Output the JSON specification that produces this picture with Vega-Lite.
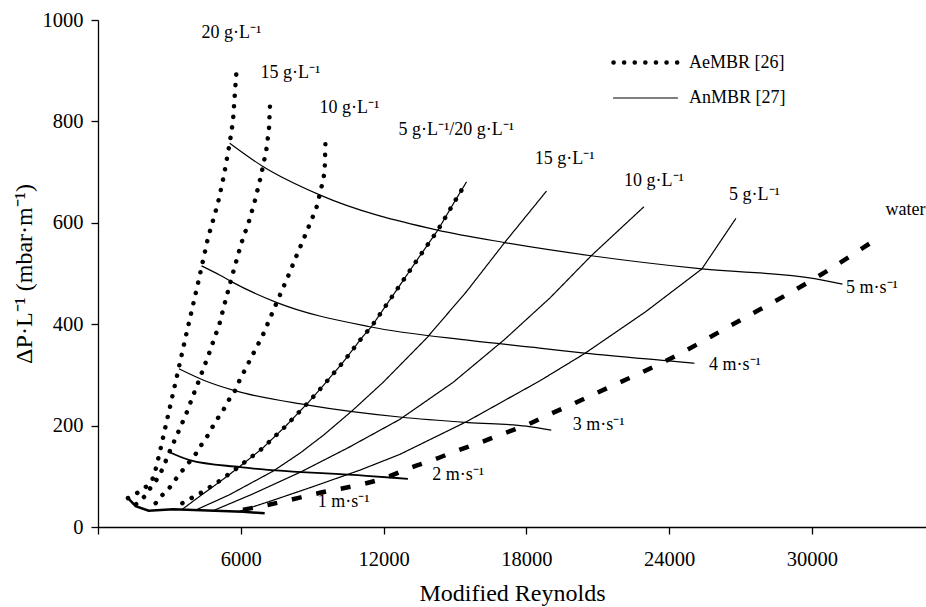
{
  "$schema": "https://vega.github.io/schema/vega-lite/v6.json",
  "width": 828,
  "height": 507,
  "autosize": {"type": "none"},
  "padding": {"left": 98, "top": 20, "right": 0, "bottom": 80},
  "background": "white",
  "config": {
    "font": "'Liberation Serif', 'Times New Roman', serif",
    "view": {"stroke": null},
    "axis": {
      "grid": false,
      "domainColor": "black",
      "tickColor": "black",
      "labelColor": "black",
      "titleColor": "black",
      "domainWidth": 1.3,
      "tickWidth": 1.3,
      "tickSize": 7,
      "labelFont": "'Liberation Serif', 'Times New Roman', serif",
      "titleFont": "'Liberation Serif', 'Times New Roman', serif",
      "labelFontSize": 20.5,
      "titleFontSize": 24,
      "titleFontWeight": "normal"
    },
    "legend": {
      "labelFont": "'Liberation Serif', 'Times New Roman', serif",
      "labelFontSize": 18,
      "labelColor": "black"
    }
  },
  "datasets": {
    "curves": [
      {"c":"Ae20","g":"AeMBR [26]","i":1,"re":1260,"dp":57},
      {"c":"Ae20","g":"AeMBR [26]","i":2,"re":1614,"dp":66},
      {"c":"Ae20","g":"AeMBR [26]","i":3,"re":2034,"dp":80},
      {"c":"Ae20","g":"AeMBR [26]","i":4,"re":2341,"dp":98},
      {"c":"Ae20","g":"AeMBR [26]","i":5,"re":2600,"dp":148},
      {"c":"Ae20","g":"AeMBR [26]","i":6,"re":2732,"dp":176},
      {"c":"Ae20","g":"AeMBR [26]","i":7,"re":3223,"dp":278},
      {"c":"Ae20","g":"AeMBR [26]","i":8,"re":3700,"dp":378},
      {"c":"Ae20","g":"AeMBR [26]","i":9,"re":4200,"dp":480},
      {"c":"Ae20","g":"AeMBR [26]","i":10,"re":4622,"dp":570},
      {"c":"Ae20","g":"AeMBR [26]","i":11,"re":5043,"dp":639},
      {"c":"Ae20","g":"AeMBR [26]","i":12,"re":5282,"dp":691},
      {"c":"Ae20","g":"AeMBR [26]","i":13,"re":5534,"dp":757},
      {"c":"Ae20","g":"AeMBR [26]","i":14,"re":5673,"dp":800},
      {"c":"Ae20","g":"AeMBR [26]","i":15,"re":5760,"dp":860},
      {"c":"Ae20","g":"AeMBR [26]","i":16,"re":5828,"dp":903},

      {"c":"Ae15","g":"AeMBR [26]","i":1,"re":1600,"dp":45},
      {"c":"Ae15","g":"AeMBR [26]","i":2,"re":2000,"dp":62},
      {"c":"Ae15","g":"AeMBR [26]","i":3,"re":2244,"dp":80},
      {"c":"Ae15","g":"AeMBR [26]","i":4,"re":2479,"dp":94},
      {"c":"Ae15","g":"AeMBR [26]","i":5,"re":2706,"dp":114},
      {"c":"Ae15","g":"AeMBR [26]","i":6,"re":3013,"dp":149},
      {"c":"Ae15","g":"AeMBR [26]","i":7,"re":3362,"dp":186},
      {"c":"Ae15","g":"AeMBR [26]","i":8,"re":3714,"dp":224},
      {"c":"Ae15","g":"AeMBR [26]","i":9,"re":4034,"dp":264},
      {"c":"Ae15","g":"AeMBR [26]","i":10,"re":4202,"dp":284},
      {"c":"Ae15","g":"AeMBR [26]","i":11,"re":4650,"dp":340},
      {"c":"Ae15","g":"AeMBR [26]","i":12,"re":5114,"dp":402},
      {"c":"Ae15","g":"AeMBR [26]","i":13,"re":5324,"dp":441},
      {"c":"Ae15","g":"AeMBR [26]","i":14,"re":5673,"dp":501},
      {"c":"Ae15","g":"AeMBR [26]","i":15,"re":6026,"dp":560},
      {"c":"Ae15","g":"AeMBR [26]","i":16,"re":6345,"dp":603},
      {"c":"Ae15","g":"AeMBR [26]","i":17,"re":6585,"dp":642},
      {"c":"Ae15","g":"AeMBR [26]","i":18,"re":6795,"dp":682},
      {"c":"Ae15","g":"AeMBR [26]","i":19,"re":6933,"dp":711},
      {"c":"Ae15","g":"AeMBR [26]","i":20,"re":7076,"dp":744},
      {"c":"Ae15","g":"AeMBR [26]","i":21,"re":7186,"dp":785},
      {"c":"Ae15","g":"AeMBR [26]","i":22,"re":7244,"dp":848},

      {"c":"Ae10","g":"AeMBR [26]","i":1,"re":2425,"dp":47},
      {"c":"Ae10","g":"AeMBR [26]","i":2,"re":2706,"dp":63},
      {"c":"Ae10","g":"AeMBR [26]","i":3,"re":3013,"dp":78},
      {"c":"Ae10","g":"AeMBR [26]","i":4,"re":3294,"dp":96},
      {"c":"Ae10","g":"AeMBR [26]","i":5,"re":3572,"dp":113},
      {"c":"Ae10","g":"AeMBR [26]","i":6,"re":3853,"dp":129},
      {"c":"Ae10","g":"AeMBR [26]","i":7,"re":4105,"dp":144},
      {"c":"Ae10","g":"AeMBR [26]","i":8,"re":4345,"dp":162},
      {"c":"Ae10","g":"AeMBR [26]","i":9,"re":4580,"dp":178},
      {"c":"Ae10","g":"AeMBR [26]","i":10,"re":4807,"dp":197},
      {"c":"Ae10","g":"AeMBR [26]","i":11,"re":5043,"dp":215},
      {"c":"Ae10","g":"AeMBR [26]","i":12,"re":5282,"dp":232},
      {"c":"Ae10","g":"AeMBR [26]","i":13,"re":5505,"dp":251},
      {"c":"Ae10","g":"AeMBR [26]","i":14,"re":5744,"dp":267},
      {"c":"Ae10","g":"AeMBR [26]","i":15,"re":5926,"dp":287},
      {"c":"Ae10","g":"AeMBR [26]","i":16,"re":6450,"dp":335},
      {"c":"Ae10","g":"AeMBR [26]","i":17,"re":6933,"dp":379},
      {"c":"Ae10","g":"AeMBR [26]","i":18,"re":7496,"dp":441},
      {"c":"Ae10","g":"AeMBR [26]","i":19,"re":7984,"dp":494},
      {"c":"Ae10","g":"AeMBR [26]","i":20,"re":8336,"dp":534},
      {"c":"Ae10","g":"AeMBR [26]","i":21,"re":8686,"dp":573},
      {"c":"Ae10","g":"AeMBR [26]","i":22,"re":9177,"dp":629},
      {"c":"Ae10","g":"AeMBR [26]","i":23,"re":9387,"dp":669},
      {"c":"Ae10","g":"AeMBR [26]","i":24,"re":9526,"dp":700},
      {"c":"Ae10","g":"AeMBR [26]","i":25,"re":9568,"dp":774},

      {"c":"An20","g":"AnMBR [27]","i":1,"re":3546,"dp":35},
      {"c":"An20","g":"AnMBR [27]","i":2,"re":4345,"dp":63},
      {"c":"An20","g":"AnMBR [27]","i":3,"re":5114,"dp":89},
      {"c":"An20","g":"AnMBR [27]","i":4,"re":5841,"dp":115},
      {"c":"An20","g":"AnMBR [27]","i":5,"re":6908,"dp":155},
      {"c":"An20","g":"AnMBR [27]","i":6,"re":7887,"dp":199},
      {"c":"An20","g":"AnMBR [27]","i":7,"re":8824,"dp":245},
      {"c":"An20","g":"AnMBR [27]","i":8,"re":9430,"dp":277},
      {"c":"An20","g":"AnMBR [27]","i":9,"re":10300,"dp":325},
      {"c":"An20","g":"AnMBR [27]","i":10,"re":11135,"dp":376},
      {"c":"An20","g":"AnMBR [27]","i":11,"re":11490,"dp":395},
      {"c":"An20","g":"AnMBR [27]","i":12,"re":12749,"dp":481},
      {"c":"An20","g":"AnMBR [27]","i":13,"re":13518,"dp":534},
      {"c":"An20","g":"AnMBR [27]","i":14,"re":14290,"dp":586},
      {"c":"An20","g":"AnMBR [27]","i":15,"re":14989,"dp":642},
      {"c":"An20","g":"AnMBR [27]","i":16,"re":15480,"dp":680},

      {"c":"Ae5","g":"AeMBR [26]","i":1,"re":3546,"dp":47},
      {"c":"Ae5","g":"AeMBR [26]","i":2,"re":4345,"dp":68},
      {"c":"Ae5","g":"AeMBR [26]","i":3,"re":5114,"dp":91},
      {"c":"Ae5","g":"AeMBR [26]","i":4,"re":5841,"dp":116},
      {"c":"Ae5","g":"AeMBR [26]","i":5,"re":6908,"dp":155},
      {"c":"Ae5","g":"AeMBR [26]","i":6,"re":7887,"dp":199},
      {"c":"Ae5","g":"AeMBR [26]","i":7,"re":8824,"dp":245},
      {"c":"Ae5","g":"AeMBR [26]","i":8,"re":9430,"dp":277},
      {"c":"Ae5","g":"AeMBR [26]","i":9,"re":10300,"dp":325},
      {"c":"Ae5","g":"AeMBR [26]","i":10,"re":11135,"dp":376},
      {"c":"Ae5","g":"AeMBR [26]","i":11,"re":11490,"dp":395},
      {"c":"Ae5","g":"AeMBR [26]","i":12,"re":12749,"dp":481},
      {"c":"Ae5","g":"AeMBR [26]","i":13,"re":13518,"dp":534},
      {"c":"Ae5","g":"AeMBR [26]","i":14,"re":14290,"dp":586},
      {"c":"Ae5","g":"AeMBR [26]","i":15,"re":14989,"dp":642},
      {"c":"Ae5","g":"AeMBR [26]","i":16,"re":15480,"dp":680},

      {"c":"An15","g":"AnMBR [27]","i":1,"re":4135,"dp":34},
      {"c":"An15","g":"AnMBR [27]","i":2,"re":5500,"dp":63},
      {"c":"An15","g":"AnMBR [27]","i":3,"re":7355,"dp":110},
      {"c":"An15","g":"AnMBR [27]","i":4,"re":8500,"dp":146},
      {"c":"An15","g":"AnMBR [27]","i":5,"re":9500,"dp":182},
      {"c":"An15","g":"AnMBR [27]","i":6,"re":10700,"dp":230},
      {"c":"An15","g":"AnMBR [27]","i":7,"re":11976,"dp":285},
      {"c":"An15","g":"AnMBR [27]","i":8,"re":13800,"dp":372},
      {"c":"An15","g":"AnMBR [27]","i":9,"re":15500,"dp":465},
      {"c":"An15","g":"AnMBR [27]","i":10,"re":17090,"dp":561},
      {"c":"An15","g":"AnMBR [27]","i":11,"re":18840,"dp":662},

      {"c":"An10","g":"AnMBR [27]","i":1,"re":4833,"dp":32},
      {"c":"An10","g":"AnMBR [27]","i":2,"re":6500,"dp":65},
      {"c":"An10","g":"AnMBR [27]","i":3,"re":8500,"dp":108},
      {"c":"An10","g":"AnMBR [27]","i":4,"re":10500,"dp":156},
      {"c":"An10","g":"AnMBR [27]","i":5,"re":12677,"dp":212},
      {"c":"An10","g":"AnMBR [27]","i":6,"re":14917,"dp":285},
      {"c":"An10","g":"AnMBR [27]","i":7,"re":17090,"dp":370},
      {"c":"An10","g":"AnMBR [27]","i":8,"re":19000,"dp":452},
      {"c":"An10","g":"AnMBR [27]","i":9,"re":20730,"dp":535},
      {"c":"An10","g":"AnMBR [27]","i":10,"re":22930,"dp":631},

      {"c":"An5","g":"AnMBR [27]","i":1,"re":5883,"dp":30},
      {"c":"An5","g":"AnMBR [27]","i":2,"re":7500,"dp":55},
      {"c":"An5","g":"AnMBR [27]","i":3,"re":9000,"dp":79},
      {"c":"An5","g":"AnMBR [27]","i":4,"re":11000,"dp":112},
      {"c":"An5","g":"AnMBR [27]","i":5,"re":12677,"dp":143},
      {"c":"An5","g":"AnMBR [27]","i":6,"re":15500,"dp":208},
      {"c":"An5","g":"AnMBR [27]","i":7,"re":18560,"dp":288},
      {"c":"An5","g":"AnMBR [27]","i":8,"re":20450,"dp":342},
      {"c":"An5","g":"AnMBR [27]","i":9,"re":23000,"dp":424},
      {"c":"An5","g":"AnMBR [27]","i":10,"re":25380,"dp":509},
      {"c":"An5","g":"AnMBR [27]","i":11,"re":26800,"dp":608},

      {"c":"water","g":"water","i":1,"re":6093,"dp":34},
      {"c":"water","g":"water","i":2,"re":7076,"dp":43},
      {"c":"water","g":"water","i":3,"re":9106,"dp":65},
      {"c":"water","g":"water","i":4,"re":12187,"dp":99},
      {"c":"water","g":"water","i":5,"re":13098,"dp":116},
      {"c":"water","g":"water","i":6,"re":14077,"dp":132},
      {"c":"water","g":"water","i":7,"re":15060,"dp":150},
      {"c":"water","g":"water","i":8,"re":16040,"dp":166},
      {"c":"water","g":"water","i":9,"re":17019,"dp":184},
      {"c":"water","g":"water","i":10,"re":18000,"dp":201},
      {"c":"water","g":"water","i":11,"re":18910,"dp":221},
      {"c":"water","g":"water","i":12,"re":19890,"dp":241},
      {"c":"water","g":"water","i":13,"re":20800,"dp":261},
      {"c":"water","g":"water","i":14,"re":21785,"dp":282},
      {"c":"water","g":"water","i":15,"re":23880,"dp":328},
      {"c":"water","g":"water","i":16,"re":27000,"dp":408},
      {"c":"water","g":"water","i":17,"re":30115,"dp":490},
      {"c":"water","g":"water","i":18,"re":32850,"dp":572},

      {"c":"V1","g":"velocity","i":1,"re":1260,"dp":57},
      {"c":"V1","g":"velocity","i":2,"re":1584,"dp":41},
      {"c":"V1","g":"velocity","i":3,"re":2130,"dp":32},
      {"c":"V1","g":"velocity","i":4,"re":3150,"dp":35},
      {"c":"V1","g":"velocity","i":5,"re":6090,"dp":30},
      {"c":"V1","g":"velocity","i":6,"re":7005,"dp":27},

      {"c":"V2","g":"velocity","i":1,"re":2941,"dp":149},
      {"c":"V2","g":"velocity","i":2,"re":3853,"dp":132},
      {"c":"V2","g":"velocity","i":3,"re":5983,"dp":118},
      {"c":"V2","g":"velocity","i":4,"re":11278,"dp":101},
      {"c":"V2","g":"velocity","i":5,"re":13026,"dp":95},

      {"c":"V3","g":"velocity","i":1,"re":3400,"dp":312},
      {"c":"V3","g":"velocity","i":2,"re":4413,"dp":290},
      {"c":"V3","g":"velocity","i":3,"re":5745,"dp":269},
      {"c":"V3","g":"velocity","i":4,"re":8757,"dp":241},
      {"c":"V3","g":"velocity","i":5,"re":12680,"dp":217},
      {"c":"V3","g":"velocity","i":6,"re":15550,"dp":206},
      {"c":"V3","g":"velocity","i":7,"re":18000,"dp":199},
      {"c":"V3","g":"velocity","i":8,"re":19050,"dp":191},

      {"c":"V4","g":"velocity","i":1,"re":4350,"dp":515},
      {"c":"V4","g":"velocity","i":2,"re":5110,"dp":497},
      {"c":"V4","g":"velocity","i":3,"re":5605,"dp":484},
      {"c":"V4","g":"velocity","i":4,"re":7496,"dp":443},
      {"c":"V4","g":"velocity","i":5,"re":11417,"dp":395},
      {"c":"V4","g":"velocity","i":6,"re":15620,"dp":368},
      {"c":"V4","g":"velocity","i":7,"re":18560,"dp":353},
      {"c":"V4","g":"velocity","i":8,"re":20450,"dp":343},
      {"c":"V4","g":"velocity","i":9,"re":23880,"dp":328},
      {"c":"V4","g":"velocity","i":10,"re":25070,"dp":323},

      {"c":"V5","g":"velocity","i":1,"re":5534,"dp":757},
      {"c":"V5","g":"velocity","i":2,"re":6933,"dp":711},
      {"c":"V5","g":"velocity","i":3,"re":9316,"dp":655},
      {"c":"V5","g":"velocity","i":4,"re":14220,"dp":586},
      {"c":"V5","g":"velocity","i":5,"re":17090,"dp":561},
      {"c":"V5","g":"velocity","i":6,"re":20730,"dp":535},
      {"c":"V5","g":"velocity","i":7,"re":25380,"dp":509},
      {"c":"V5","g":"velocity","i":8,"re":30115,"dp":490},
      {"c":"V5","g":"velocity","i":9,"re":31290,"dp":479}
    ],
    "labels": [
      {"t":"20 g·L⁻¹","re":5605,"dp":975},
      {"t":"15 g·L⁻¹","re":8090,"dp":896},
      {"t":"10 g·L⁻¹","re":10565,"dp":826},
      {"t":"5 g·L⁻¹/20 g·L⁻¹","re":15060,"dp":784},
      {"t":"15 g·L⁻¹","re":19610,"dp":726},
      {"t":"10 g·L⁻¹","re":23370,"dp":682},
      {"t":"5 g·L⁻¹","re":27590,"dp":655},
      {"t":"water","re":33940,"dp":626},
      {"t":"5 m·s⁻¹","re":32530,"dp":472},
      {"t":"4 m·s⁻¹","re":26775,"dp":320},
      {"t":"3 m·s⁻¹","re":21040,"dp":201},
      {"t":"2 m·s⁻¹","re":15135,"dp":103},
      {"t":"1 m·s⁻¹","re":10330,"dp":50}
    ]
  },
  "encoding": {
    "x": {
      "field": "re", "type": "quantitative",
      "scale": {"domain": [0, 34800], "nice": false, "zero": false},
      "axis": {
        "title": "Modified Reynolds",
        "values": [0, 6000, 12000, 18000, 24000, 30000],
        "format": "d",
        "labelExpr": "datum.value == 0 ? '' : datum.label",
        "labelPadding": 15,
        "titlePadding": 12
      }
    },
    "y": {
      "field": "dp", "type": "quantitative",
      "scale": {"domain": [0, 1000], "nice": false},
      "axis": {
        "title": "ΔP·L⁻¹ (mbar·m⁻¹)",
        "values": [0, 200, 400, 600, 800, 1000],
        "format": "d",
        "labelPadding": 8,
        "titleX": -62
      }
    }
  },
  "layer": [
    {
      "data": {"name": "curves"},
      "transform": [{"filter": "datum.g == 'AeMBR [26]' || datum.g == 'AnMBR [27]'"}],
      "mark": {"type": "line", "color": "black", "strokeCap": "round", "interpolate": "linear"},
      "encoding": {
        "detail": {"field": "c"},
        "order": {"field": "i", "type": "quantitative"},
        "strokeDash": {
          "field": "g", "type": "nominal",
          "scale": {"domain": ["AeMBR [26]", "AnMBR [27]"], "range": [[0.1, 10.5], [1, 0]]},
          "legend": {
            "title": null,
            "orient": "none",
            "legendX": 535,
            "legendY": 30,
            "symbolType": "M-3.2,0H3.2",
            "symbolSize": 400,
            "symbolStrokeColor": "black",
            "labelOffset": 31,
            "rowPadding": 15,
            "padding": 0,
            "encode": {"symbols": {"update": {"strokeCap": {"value": "round"}}}}
          }
        },
        "strokeWidth": {
          "field": "g", "type": "nominal",
          "scale": {"domain": ["AeMBR [26]", "AnMBR [27]"], "range": [4.5, 1.2]},
          "legend": {
            "title": null,
            "orient": "none",
            "legendX": 535,
            "legendY": 30,
            "symbolType": "M-3.2,0H3.2",
            "symbolSize": 400,
            "symbolStrokeColor": "black",
            "labelOffset": 31,
            "rowPadding": 15,
            "padding": 0,
            "encode": {"symbols": {"update": {"strokeCap": {"value": "round"}}}}
          }
        }
      }
    },
    {
      "data": {"name": "curves"},
      "transform": [{"filter": "datum.c == 'V1'"}],
      "mark": {"type": "line", "color": "black", "strokeWidth": 2.5, "interpolate": "linear"},
      "encoding": {"order": {"field": "i", "type": "quantitative"}}
    },
    {
      "data": {"name": "curves"},
      "transform": [{"filter": "datum.c == 'V2'"}],
      "mark": {"type": "line", "color": "black", "strokeWidth": 1.8, "interpolate": "monotone"},
      "encoding": {"order": {"field": "i", "type": "quantitative"}}
    },
    {
      "data": {"name": "curves"},
      "transform": [{"filter": "datum.c == 'V3' || datum.c == 'V4' || datum.c == 'V5'"}],
      "mark": {"type": "line", "color": "black", "strokeWidth": 1.2, "interpolate": "monotone"},
      "encoding": {"detail": {"field": "c"}, "order": {"field": "i", "type": "quantitative"}}
    },
    {
      "data": {"name": "curves"},
      "transform": [{"filter": "datum.g == 'water'"}],
      "mark": {"type": "line", "color": "black", "strokeWidth": 4.5, "strokeDash": [10, 15], "interpolate": "monotone"},
      "encoding": {"order": {"field": "i", "type": "quantitative"}}
    },
    {
      "data": {"name": "labels"},
      "mark": {"type": "text", "font": "'Liberation Serif', 'Times New Roman', serif", "fontSize": 18, "color": "black", "align": "center", "baseline": "middle"},
      "encoding": {"text": {"field": "t"}}
    }
  ]
}
